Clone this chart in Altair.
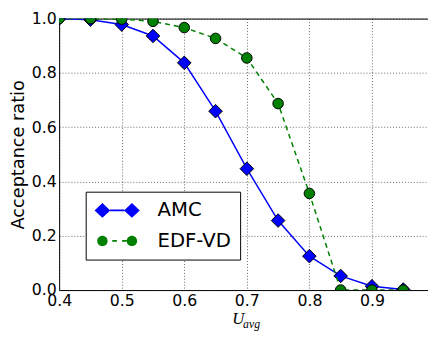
import altair as alt
import pandas as pd

# ---- data ----
u_avg = [0.40, 0.45, 0.50, 0.55, 0.60, 0.65, 0.70, 0.75, 0.80, 0.85, 0.90, 0.95]
amc = [1.0, 0.996, 0.978, 0.936, 0.837, 0.659, 0.447, 0.256, 0.125, 0.052, 0.014, 0.002]
edf_vd = [1.0, 1.0, 0.998, 0.99, 0.967, 0.927, 0.855, 0.687, 0.356, 0.0, 0.0, 0.0]
series_names = ["AMC", "EDF-VD"]
series_colors = ["#0000ff", "#008000"]
x_ticks = [0.4, 0.5, 0.6, 0.7, 0.8, 0.9]
y_ticks = [0.0, 0.2, 0.4, 0.6, 0.8, 1.0]

df = pd.DataFrame({
    "u": u_avg * 2,
    "ratio": amc + edf_vd,
    "series": ["AMC"] * len(u_avg) + ["EDF-VD"] * len(u_avg),
})
df_amc = df[df.series == "AMC"]
df_edf = df[df.series == "EDF-VD"]

W, H = 375, 276
FONT = "DejaVu Sans"

x_scale = alt.Scale(domain=[0.4, 0.9896], nice=False, zero=False)
y_scale = alt.Scale(domain=[0, 1], nice=False)

x_axis = alt.Axis(values=x_ticks, format=".1f", title=None, ticks=False,
                  labelPadding=3, labelFontSize=16, labelFont=FONT, labelColor="black",
                  grid=True, gridColor="black", gridDash=[1, 2], gridWidth=0.6,
                  domainColor="black", domainWidth=1, labelFlush=False)
y_axis = alt.Axis(values=y_ticks, format=".1f", title="Acceptance ratio",
                  ticks=False, labelPadding=3, labelFontSize=16, labelFont=FONT,
                  labelColor="black", titleFontSize=18, titleFont=FONT,
                  titleFontWeight="normal", titleColor="black", titlePadding=4,
                  grid=True, gridColor="black", gridDash=[1, 2], gridWidth=0.6,
                  domainColor="black", domainWidth=1, labelFlush=False)

y_enc = alt.Y("ratio:Q", scale=y_scale, axis=y_axis)

amc_line = alt.Chart(df_amc).mark_line(color=series_colors[0], strokeWidth=1.5, clip=True).encode(
    x=alt.X("u:Q", scale=x_scale, axis=x_axis), y=y_enc)
amc_pts = alt.Chart(df_amc).mark_point(shape="diamond", filled=True, fill=series_colors[0],
                                       stroke="black", strokeWidth=1, size=190, opacity=1,
                                       clip=True).encode(
    x=alt.X("u:Q", scale=x_scale, axis=None), y=y_enc)
edf_line = alt.Chart(df_edf).mark_line(color=series_colors[1], strokeWidth=1.5,
                                       strokeDash=[5, 4], clip=True).encode(
    x=alt.X("u:Q", scale=x_scale, axis=None), y=y_enc)
edf_pts = alt.Chart(df_edf).mark_point(shape="circle", filled=True, fill=series_colors[1],
                                       stroke="black", strokeWidth=1, size=115, opacity=1,
                                       clip=True).encode(
    x=alt.X("u:Q", scale=x_scale, axis=None), y=y_enc)

# legend symbols: marker - line - marker, as in the reference
amc_sym = ("M-2.875,0L-1.875,-0.94L-0.875,0L-1.875,0.94Z"
           "M0.875,0L1.875,-0.94L2.875,0L1.875,0.94Z"
           "M-0.9,-0.1L0.9,-0.1L0.9,0.1L-0.9,0.1Z")
edf_sym = ("M-2.535,0A0.66,0.66 0 1,0 -1.215,0A0.66,0.66 0 1,0 -2.535,0Z"
           "M1.215,0A0.66,0.66 0 1,0 2.535,0A0.66,0.66 0 1,0 1.215,0Z"
           "M-0.625,-0.1L-0.04,-0.1L-0.04,0.1L-0.625,0.1Z"
           "M0.625,-0.1L1.2,-0.1L1.2,0.1L0.625,0.1Z")

legend = alt.Legend(title=None, orient="none", legendX=27, legendY=176,
                    labelFontSize=20, labelFont=FONT, labelColor="black",
                    symbolSize=256, symbolStrokeWidth=0, symbolOpacity=1,
                    symbolOffset=13, labelOffset=31, rowPadding=11, padding=9,
                    strokeColor="black", fillColor="white", cornerRadius=0)

legend_layer = alt.Chart(df).mark_point(filled=True, opacity=0).encode(
    x=alt.X("u:Q", scale=x_scale,
            axis=alt.Axis(orient="top", labels=False, ticks=False, grid=False,
                          title=None, domainColor="black", domainWidth=1)),
    y=y_enc,
    color=alt.Color("series:N", scale=alt.Scale(domain=series_names, range=series_colors),
                    legend=legend),
    shape=alt.Shape("series:N", scale=alt.Scale(domain=series_names, range=[amc_sym, edf_sym]),
                    legend=legend),
)

title_u = alt.Chart(pd.DataFrame({"t": ["U"]})).mark_text(
    font="Liberation Serif", fontStyle="italic", fontSize=17, align="left",
    baseline="alphabetic", color="black").encode(
    x=alt.value(176), y=alt.value(311), text="t:N")
title_sub = alt.Chart(pd.DataFrame({"t": ["avg"]})).mark_text(
    font="Liberation Serif", fontStyle="italic", fontSize=12, align="left",
    baseline="alphabetic", color="black").encode(
    x=alt.value(187), y=alt.value(315), text="t:N")

chart = alt.layer(amc_line, amc_pts, edf_line, edf_pts, legend_layer, title_u, title_sub).resolve_axis(
    x="independent"
).properties(
    width=W, height=H,
    autosize=alt.AutoSizeParams(type="none"),
    padding={"left": 52, "top": 8, "right": 0, "bottom": 48},
    background="white",
).configure_view(stroke=None)

chart.save("out.html", embed_options={"renderer": "svg", "actions": False})
